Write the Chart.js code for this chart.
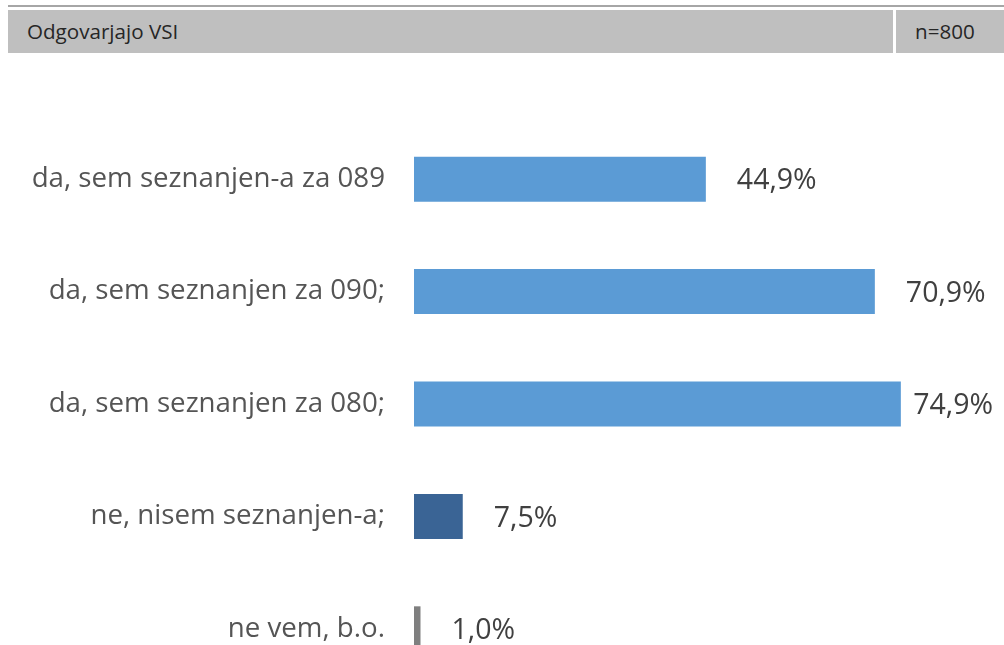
<!DOCTYPE html>
<html>
<head>
<meta charset="utf-8">
<script src="https://cdn.jsdelivr.net/npm/chart.js@4"></script>
<style>
  html, body { margin: 0; padding: 0; background: #fff; overflow: hidden; }
  body { width: 1004px; height: 645px; position: relative; font-family: "Open Sans", sans-serif; }
  .topline { position: absolute; left: 8px; right: 0; top: 5px; height: 2px; background: #a6a6a6; }
  .head { position: absolute; top: 10px; height: 43px; background: #bfbfbf; color: #262626;
          font-size: 20.6px; line-height: 43px; box-sizing: border-box; }
  .head.left { left: 8px; width: 885px; padding-left: 19px; }
  .head.right { left: 896px; right: 0; padding-left: 19px; }
  #chart { position: absolute; left: 0; top: 0; }
</style>
</head>
<body>
<div class="topline"></div>
<div class="head left">Odgovarjajo VSI</div>
<div class="head right">n=800</div>
<canvas id="chart" width="1004" height="700"></canvas>
<script>
var labels = [
  "da, sem seznanjen-a za 089",
  "da, sem seznanjen za 090;",
  "da, sem seznanjen za 080;",
  "ne, nisem seznanjen-a;",
  "ne vem, b.o."
];
var values = [44.9, 70.9, 74.9, 7.5, 1.0];
var colors = ["#5b9bd5", "#5b9bd5", "#5b9bd5", "#3a6495", "#7f7f7f"];

var tickColor = "#555555";
var valueColor = "#404040";
var labelFont = '28.5px "Open Sans", sans-serif';

// percentage next to the end of each bar, pulled back in if it would run off the right edge
var valueLabels = {
  id: "valueLabels",
  afterDatasetsDraw: function (chart) {
    var ctx = chart.ctx;
    var meta = chart.getDatasetMeta(0);
    ctx.save();
    ctx.font = labelFont;
    ctx.fillStyle = valueColor;
    ctx.textAlign = "left";
    ctx.textBaseline = "middle";
    meta.data.forEach(function (bar, i) {
      var txt = values[i].toFixed(1).replace(".", ",") + "%";
      var w = ctx.measureText(txt).width;
      var x = Math.min(bar.x + 31, 993 - w);
      ctx.fillText(txt, x, bar.y + 2);
    });
    ctx.restore();
  }
};

new Chart(document.getElementById("chart").getContext("2d"), {
  type: "bar",
  data: {
    labels: labels,
    datasets: [{
      data: values,
      backgroundColor: colors,
      categoryPercentage: 1,
      barPercentage: 0.4
    }]
  },
  options: {
    indexAxis: "y",
    responsive: false,
    animation: false,
    layout: { padding: { top: 123, bottom: 15, left: 0, right: 5 } },
    plugins: { legend: { display: false }, tooltip: { enabled: false } },
    scales: {
      x: { display: false, min: 0, max: 90 },
      y: {
        afterFit: function (scale) {
          scale.width = 414;
          scale.paddingTop = 0;
          scale.paddingBottom = 0;
        },
        grid: { display: false, drawTicks: false },
        border: { display: false },
        ticks: {
          padding: 29,
          color: tickColor,
          font: { family: "Open Sans", size: 27.7 }
        }
      }
    }
  },
  plugins: [valueLabels]
});
</script>
</body>
</html>
